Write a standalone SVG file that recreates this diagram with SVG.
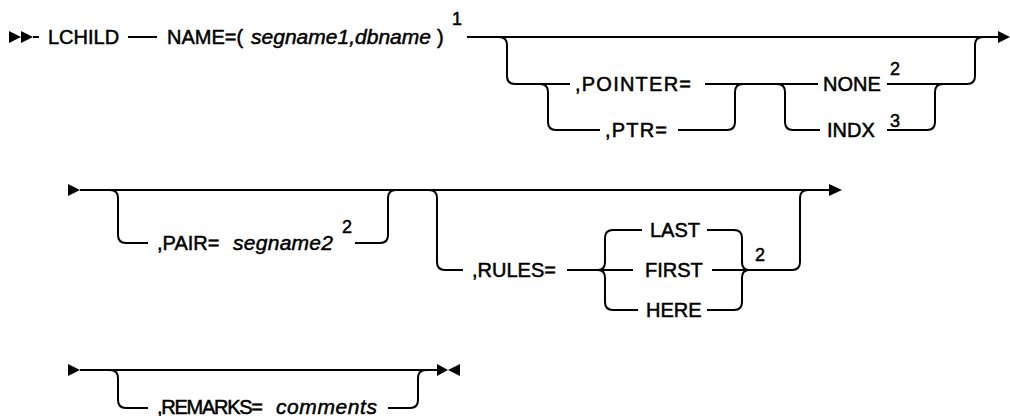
<svg xmlns="http://www.w3.org/2000/svg" width="1010" height="416" viewBox="0 0 1010 416">
<style>
.t{font-family:"Liberation Sans",Arial,sans-serif;font-size:20px;fill:#000;stroke:#000;stroke-width:0.5}
.i{font-family:"Liberation Sans",Arial,sans-serif;font-size:21px;font-style:italic;fill:#000;stroke:#000;stroke-width:0.5}
.s{font-family:"Liberation Sans",Arial,sans-serif;font-size:18px;fill:#000;stroke:#000;stroke-width:0.5}
.c{fill:none;stroke:#000;stroke-width:2}
.a{fill:#000;stroke:none}
</style>
<rect width="1010" height="416" fill="#fff"/>
<g id="connectors">
<path class="a" d="M9 31 L21 37 L9 43 Z M21 31 L33 37 L21 43 Z"/>
<path class="c" d="M33 37 H39"/>
<path class="c" d="M128 37 H157"/>
<path class="c" d="M467 37 H1000"/>
<path class="a" d="M998 31 L1010 37 L998 43 Z"/>
<path class="c" d="M499 37 Q507 37 507 45 V76 Q507 84 515 84 H570"/>
<path class="c" d="M540 84 Q548 84 548 92 V122 Q548 130 556 130 H600"/>
<path class="c" d="M705 84 H818"/>
<path class="c" d="M678 130 H727 Q735 130 735 122 V92 Q735 84 743 84"/>
<path class="c" d="M777 84 Q785 84 785 92 V122 Q785 130 793 130 H820"/>
<path class="c" d="M887 84 H967 Q975 84 975 76 V45 Q975 37 983 37"/>
<path class="c" d="M887 130 H927 Q935 130 935 122 V92 Q935 84 943 84"/>
<path class="a" d="M68 184 L80 190 L68 196 Z"/>
<path class="c" d="M80 190 H830"/>
<path class="a" d="M829 184 L842 190 L829 196 Z"/>
<path class="c" d="M110 190 Q118 190 118 198 V235 Q118 243 126 243 H148"/>
<path class="c" d="M355 243 H380 Q388 243 388 235 V198 Q388 190 396 190"/>
<path class="c" d="M429 190 Q437 190 437 198 V262 Q437 270 445 270 H463"/>
<path class="c" d="M567 270 H633"/>
<path class="c" d="M642 230 H613 Q605 230 605 238 V262 Q605 270 598 270"/>
<path class="c" d="M598 270 Q605 270 605 278 V302 Q605 310 613 310 H638"/>
<path class="c" d="M707 230 H734 Q742 230 742 238 V262 Q742 270 749 270"/>
<path class="c" d="M707 310 H734 Q742 310 742 302 V278 Q742 270 749 270"/>
<path class="c" d="M712 270 H792 Q800 270 800 262 V198 Q800 190 808 190"/>
<path class="a" d="M68 364 L80 370 L68 376 Z"/>
<path class="c" d="M80 370 H437"/>
<path class="a" d="M437 364 L448 370 L437 376 Z M460 364 L448 370 L460 376 Z"/>
<path class="c" d="M110 370 Q118 370 118 378 V400 Q118 408 126 408 H148"/>
<path class="c" d="M388 408 H410 Q418 408 418 400 V378 Q418 370 426 370"/>
</g>
<g id="node-lchild"><text class="t" x="48" y="44">LCHILD</text></g>
<g id="node-name"><text class="t" x="167" y="44">NAME=(</text><text class="i" x="251" y="44" textLength="180" lengthAdjust="spacing">segname1,dbname</text><text class="t" x="437" y="44">)</text><text class="s" x="452" y="25">1</text></g>
<g id="node-pointer"><text class="t" x="575" y="91" textLength="116" lengthAdjust="spacing">,POINTER=</text></g>
<g id="node-ptr"><text class="t" x="605" y="137" textLength="62" lengthAdjust="spacing">,PTR=</text></g>
<g id="node-none"><text class="t" x="823" y="91">NONE</text><text class="s" x="890" y="75">2</text></g>
<g id="node-indx"><text class="t" x="827" y="137">INDX</text><text class="s" x="890" y="127">3</text></g>
<g id="node-pair"><text class="t" x="157" y="250">,PAIR=</text><text class="i" x="233" y="250" textLength="100" lengthAdjust="spacing">segname2</text><text class="s" x="342" y="233">2</text></g>
<g id="node-rules"><text class="t" x="472" y="277">,RULES=</text></g>
<g id="node-last"><text class="t" x="650" y="237">LAST</text></g>
<g id="node-first"><text class="t" x="645" y="277">FIRST</text></g>
<g id="node-here"><text class="t" x="646" y="317">HERE</text></g>
<g id="note-rules"><text class="s" x="755" y="261">2</text></g>
<g id="node-remarks"><text class="t" x="157" y="414" textLength="106" lengthAdjust="spacing">,REMARKS=</text><text class="i" x="276" y="414" textLength="101" lengthAdjust="spacing">comments</text></g>
</svg>
